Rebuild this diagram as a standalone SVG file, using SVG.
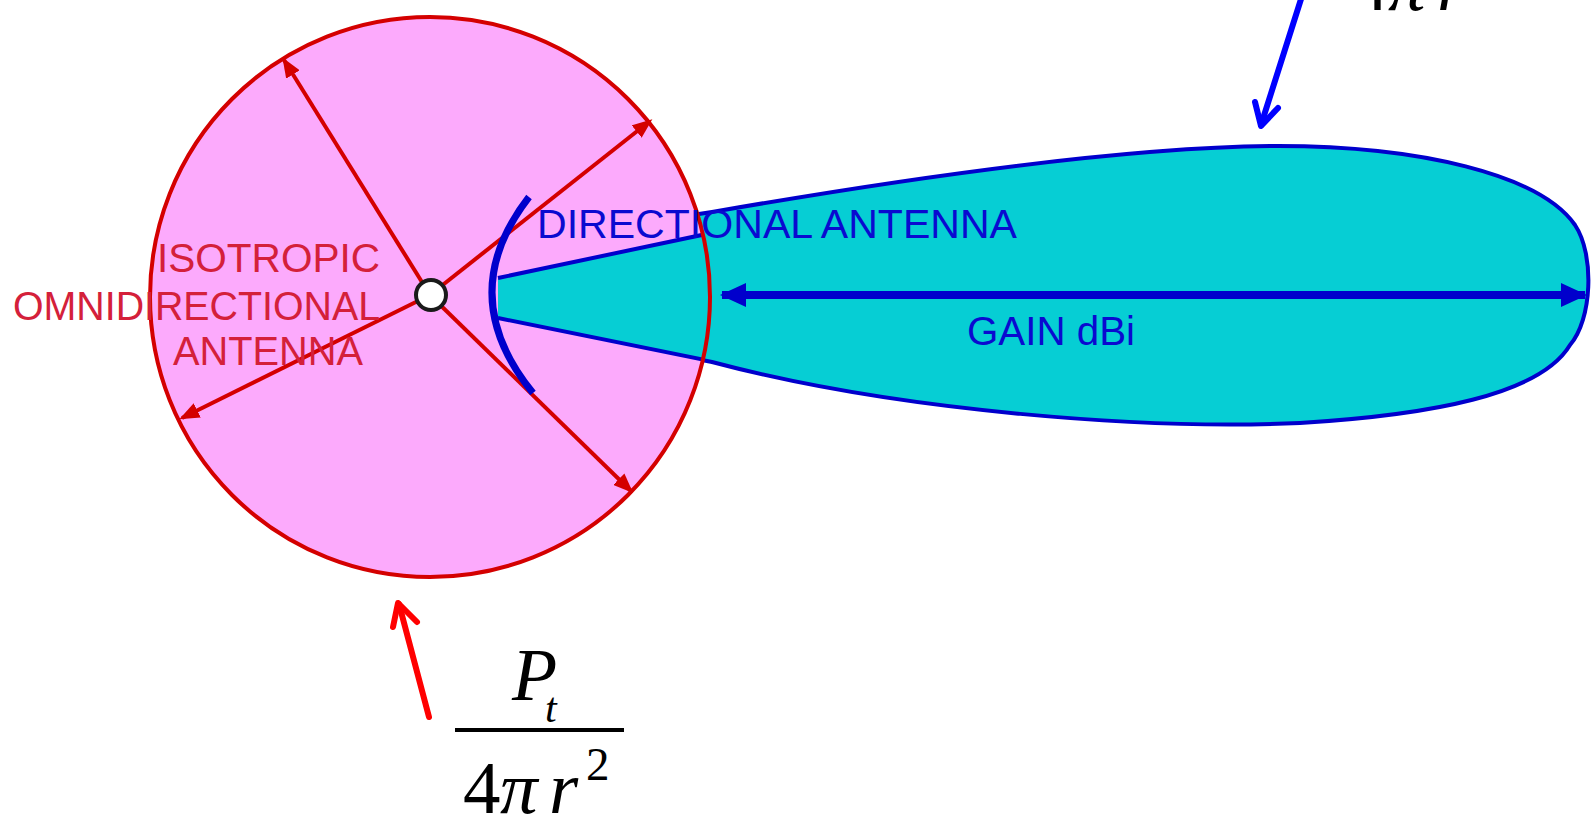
<svg xmlns="http://www.w3.org/2000/svg" width="1595" height="822" viewBox="0 0 1595 822">
<style>
.lbl{font-family:"Liberation Sans",Arial,sans-serif;font-size:40px}
.red{fill:#d4203a}
.blu{fill:#0a0ad0}
.math{font-family:"Liberation Serif","Times New Roman",serif;fill:#000}
.rarrow{stroke:#d40000;stroke-width:4;fill:none}
.edge{stroke:#0000cc;stroke-width:4;fill:none}
</style>
<defs>
<clipPath id="circClip"><circle cx="430" cy="297" r="280"/></clipPath>
<marker id="rh" viewBox="0 0 20 16" refX="17" refY="8" markerWidth="20" markerHeight="16" markerUnits="userSpaceOnUse" orient="auto"><path d="M0,0 L20,8 L0,16 Z" fill="#d40000"/></marker>
<marker id="bh" viewBox="0 0 26 24" refX="24" refY="12" markerWidth="26" markerHeight="24" markerUnits="userSpaceOnUse" orient="auto-start-reverse"><path d="M0,0 L26,12 L0,24 Z" fill="#0000cc"/></marker>
</defs>
<rect width="1595" height="822" fill="#fff"/>
<g id="lobe">
<path d="M600,229 L712,212 C850,188 1100,148 1270,146 C1420,145 1540,175 1575,225 C1595,255 1592,320 1570,345 C1540,395 1430,415 1300,423 C1150,430 900,412 712,362 L600,340 Z" fill="#06ced4" stroke="#0000cc" stroke-width="4"/>
</g>
<g id="isotropic">
<circle cx="430" cy="297" r="280" fill="#fcaafc"/>
</g>
<g id="cone" clip-path="url(#circClip)">
<path d="M498,278 L730,229 L730,365 L498,318 Z" fill="#06ced4"/>
<path class="edge" d="M498,278 L730,229"/>
<path class="edge" d="M498,318 L730,365"/>
</g>
<g id="isotropic-outline">
<circle cx="430" cy="297" r="280" fill="none" stroke="#d40000" stroke-width="4"/>
</g>
<g id="connectors">
<path class="rarrow" d="M430,295 L284,60" marker-end="url(#rh)"/>
<path class="rarrow" d="M430,295 L650,121" marker-end="url(#rh)"/>
<path class="rarrow" d="M430,295 L182,418" marker-end="url(#rh)"/>
<path class="rarrow" d="M430,295 L631,491" marker-end="url(#rh)"/>
<path d="M722,295 L1585,295" stroke="#0000cc" stroke-width="8" fill="none" marker-start="url(#bh)" marker-end="url(#bh)"/>
<path d="M1302,-4 L1261,125" stroke="#0000ff" stroke-width="6" fill="none" stroke-linecap="round"/>
<path d="M1255,102 L1261,126 L1278,108" stroke="#0000ff" stroke-width="6" fill="none" stroke-linecap="round" stroke-linejoin="round"/>
<path d="M429,717 L399,604" stroke="#ff0000" stroke-width="6" fill="none" stroke-linecap="round"/>
<path d="M393,627 L398,603 L417,622" stroke="#ff0000" stroke-width="6" fill="none" stroke-linecap="round" stroke-linejoin="round"/>
</g>
<g id="antenna">
<circle cx="431" cy="295" r="15" fill="#fff" stroke="#1a1a1a" stroke-width="4"/>
</g>
<g id="reflector">
<path d="M529,197 Q453,295 533,393" fill="none" stroke="#0000cc" stroke-width="7"/>
</g>
<g id="labels">
<text class="lbl red" x="157" y="272" textLength="223" lengthAdjust="spacingAndGlyphs">ISOTROPIC</text>
<text class="lbl red" x="13" y="320" textLength="367" lengthAdjust="spacingAndGlyphs">OMNIDIRECTIONAL</text>
<text class="lbl red" x="173" y="365" textLength="190" lengthAdjust="spacingAndGlyphs">ANTENNA</text>
<text class="lbl blu" x="537" y="238" textLength="480" lengthAdjust="spacingAndGlyphs">DIRECTIONAL ANTENNA</text>
<text class="lbl blu" x="967" y="345" textLength="168" lengthAdjust="spacingAndGlyphs">GAIN dBi</text>
</g>
<g id="formula-isotropic">
<text class="math" x="512" y="700" font-size="74" font-style="italic">P</text>
<text class="math" x="545" y="722" font-size="42" font-style="italic">t</text>
<rect x="455" y="728" width="169" height="4" fill="#000"/>
<text class="math" y="813" font-size="75"><tspan x="463">4</tspan><tspan x="500" font-style="italic">π</tspan><tspan x="549" font-style="italic">r</tspan></text>
<text class="math" x="586" y="780" font-size="47">2</text>
</g>
<g id="formula-directional">
<text class="math" y="10" font-size="75"><tspan x="1351">4</tspan><tspan x="1388" font-style="italic">π</tspan><tspan x="1437" font-style="italic">r</tspan></text>
</g>
</svg>
